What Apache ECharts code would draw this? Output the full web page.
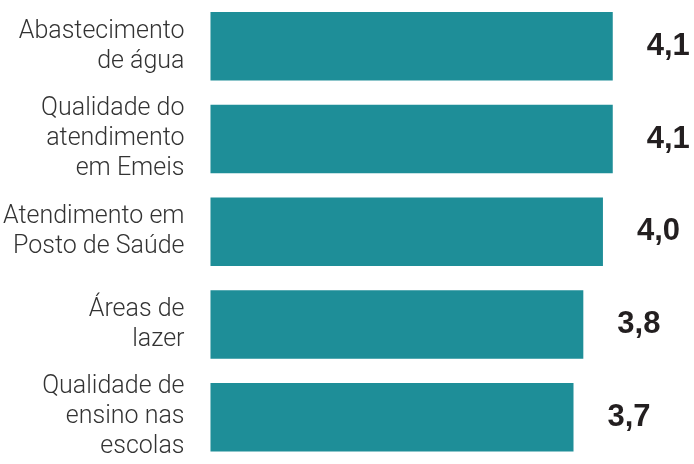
<!DOCTYPE html>
<html>
<head>
<meta charset="utf-8">
<script src="https://cdn.jsdelivr.net/npm/echarts@6/dist/echarts.min.js"></script>
<style>html,body{margin:0;padding:0;background:#fff;}#c{width:694px;height:464px;}</style>
</head>
<body>
<div id="c"></div>
<script>
var categories = [
  'Abastecimento\nde água',
  'Qualidade do\natendimento\nem Emeis',
  'Atendimento em\nPosto de Saúde',
  'Áreas de\nlazer',
  'Qualidade de\nensino nas\nescolas'
];
var values = [4.1, 4.1, 4.0, 3.8, 3.7];

var chart = echarts.init(document.getElementById('c'), null, {renderer: 'canvas'});
chart.setOption({
  animation: false,
  backgroundColor: '#ffffff',
  grid: {left: 209, right: 42, top: -3.5, bottom: 0.5, containLabel: false},
  xAxis: {
    type: 'value', min: 0, max: 4.5,
    show: false
  },
  yAxis: {
    type: 'category', inverse: true, data: categories,
    axisLine: {show: false}, axisTick: {show: false}, splitLine: {show: false},
    axisLabel: {
      margin: 26, fontFamily: 'Roboto', fontWeight: 300, fontSize: 25,
      lineHeight: 30, color: '#333333', align: 'right'
    }
  },
  series: [{
    type: 'bar', data: values, barWidth: 68.5,
    itemStyle: {color: '#1e8e98'},
    label: {
      show: true, position: 'right', distance: 34,
      fontFamily: 'Liberation Sans', fontWeight: 'bold', fontSize: 31,
      color: '#231f20',
      formatter: function (p) { return p.value.toFixed(1).replace('.', ','); }
    }
  }]
});
</script>
</body>
</html>
